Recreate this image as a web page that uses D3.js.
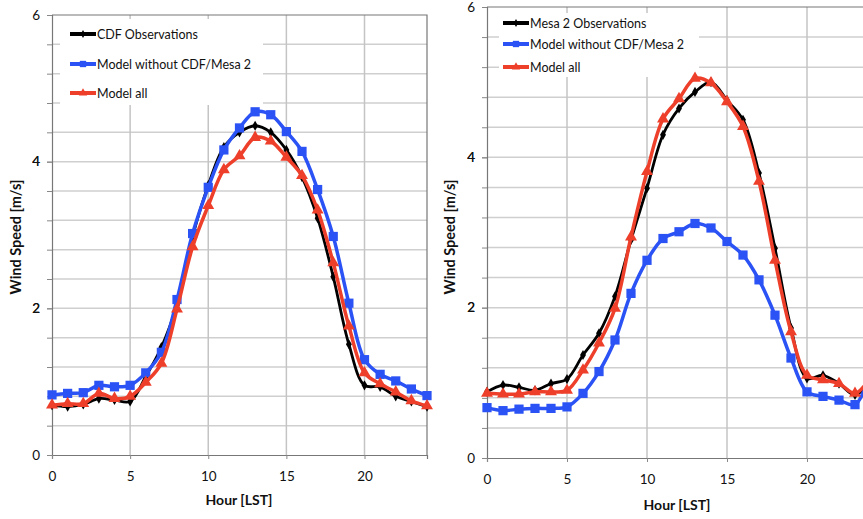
<!DOCTYPE html>
<html>
<head>
<meta charset="utf-8">
<script src="https://cdn.jsdelivr.net/npm/d3@7"></script>
<style>
body { margin: 0; background: #fff; }
svg { display: block; font-family: Lato, "Open Sans", sans-serif; }
</style>
</head>
<body>
<svg id="canvas" width="863" height="519"></svg>
<script>
// data
let hours = [0,1,2,3,4,5,6,7,8,9,10,11,12,13,14,15,16,17,18,19,20,21,22,23,24];

let cdfObs    = [0.68,0.66,0.69,0.77,0.75,0.73,1.07,1.47,2.05,2.98,3.68,4.20,4.40,4.49,4.40,4.16,3.79,3.23,2.43,1.51,0.95,0.93,0.80,0.73,0.66];
let leftNoCdf = [0.82,0.84,0.85,0.95,0.93,0.95,1.12,1.40,2.12,3.02,3.65,4.16,4.46,4.68,4.64,4.41,4.14,3.62,2.98,2.07,1.30,1.10,1.01,0.90,0.81];
let leftAll   = [0.68,0.70,0.70,0.84,0.77,0.80,0.99,1.25,1.99,2.84,3.40,3.89,4.08,4.33,4.28,4.06,3.81,3.34,2.62,1.76,1.12,0.97,0.86,0.74,0.67];

let mesaObs    = [0.88,0.97,0.94,0.90,0.99,1.05,1.37,1.66,2.15,2.90,3.59,4.30,4.65,4.87,5.00,4.76,4.50,3.79,2.79,1.73,1.06,1.10,0.99,0.84,1.05];
let rightNoCdf = [0.67,0.63,0.65,0.66,0.66,0.68,0.86,1.15,1.57,2.19,2.63,2.92,3.01,3.12,3.06,2.88,2.70,2.37,1.90,1.33,0.88,0.82,0.77,0.71,1.15];
let rightAll   = [0.86,0.85,0.85,0.88,0.88,0.90,1.17,1.53,1.99,2.94,3.81,4.51,4.78,5.05,4.99,4.74,4.41,3.68,2.63,1.68,1.10,1.04,0.99,0.86,1.08];

let xTicks = [0,5,10,15,20];
let yTicks = [0,2,4,6];
let yMinor = [0.4,0.8,1.2,1.6,2.0,2.4,2.8,3.2,3.6,4.0,4.4,4.8,5.2,5.6];

let leftNames  = ['CDF Observations', 'Model without CDF/Mesa 2', 'Model all'];
let rightNames = ['Mesa 2 Observations', 'Model without CDF/Mesa 2', 'Model all'];

let canvas = d3.select('#canvas');

let styles = [
    {color: '#000000', width: 2.8, shape: 'diamond'},
    {color: '#2a52f5', width: 3.5, shape: 'square'},
    {color: '#ee3f2b', width: 3.5, shape: 'triangle'}
];

let symbolFor = (shape, big) => {
    if (shape === 'diamond') return d3.symbol().type(d3.symbolDiamond).size(big ? 30 : 18)();
    if (shape === 'square') return d3.symbol().type(d3.symbolSquare).size(big ? 85 : 40)();
    return d3.symbol().type(d3.symbolTriangle).size(big ? 62 : 30)();
};

let drawPanel = (p) => {
    let xScale = d3.scaleLinear().domain([0, 24]).range([p.left, p.right]);
    let yScale = d3.scaleLinear().domain([0, 6]).range([p.bottom, p.top]);

    let g = canvas.append('g');

    // grid
    g.selectAll('.hgrid')
        .data(yMinor)
        .enter()
        .append('line')
        .attr('x1', p.left).attr('x2', p.right)
        .attr('y1', (d) => yScale(d)).attr('y2', (d) => yScale(d))
        .attr('stroke', '#cfcfcf')
        .attr('stroke-width', 1.5);

    g.selectAll('.vgrid')
        .data(xTicks.slice(1))
        .enter()
        .append('line')
        .attr('x1', (d) => xScale(d)).attr('x2', (d) => xScale(d))
        .attr('y1', p.top).attr('y2', p.bottom)
        .attr('stroke', '#c4c4c4')
        .attr('stroke-width', 1.5);

    // frame top / right
    g.append('path')
        .attr('d', 'M' + p.left + ',' + p.top + 'H' + p.right + 'V' + p.bottom)
        .attr('fill', 'none')
        .attr('stroke', '#777')
        .attr('stroke-width', 1.2);

    // legend box
    g.append('rect')
        .attr('x', p.legend.boxX).attr('y', p.legend.boxY)
        .attr('width', p.legend.boxW).attr('height', p.legend.boxH)
        .attr('fill', '#fff');

    // axes
    let yAxis = d3.axisLeft(yScale).tickValues(yMinor.concat(yTicks)).tickSize(5)
        .tickFormat((d) => yTicks.indexOf(d) >= 0 ? d : '');
    let yg = g.append('g').attr('transform', 'translate(' + p.left + ',0)').call(yAxis);
    yg.select('.domain').attr('stroke', '#777').attr('stroke-width', 1.2);
    yg.selectAll('line').attr('stroke', '#888');
    yg.selectAll('text').attr('font-size', 13.5).attr('fill', '#111').attr('x', -12)
        .attr('font-family', 'Lato, sans-serif');

    let xAxis = d3.axisBottom(xScale).tickValues(xTicks).tickSize(4);
    let xg = g.append('g').attr('transform', 'translate(0,' + p.bottom + ')').call(xAxis);
    xg.select('.domain').attr('stroke', '#777').attr('stroke-width', 1.2);
    xg.selectAll('line').attr('stroke', '#888');
    xg.selectAll('text').attr('font-size', 13.5).attr('fill', '#111').attr('y', 16)
        .attr('font-family', 'Lato, sans-serif');

    // axis titles
    g.append('text')
        .text('Hour [LST]')
        .attr('x', p.xTitle[0]).attr('y', p.xTitle[1])
        .attr('text-anchor', 'middle')
        .attr('font-size', 14).attr('font-weight', 'bold').attr('fill', '#111');

    g.append('text')
        .text('Wind Speed [m/s]')
        .attr('transform', 'translate(' + p.yTitle[0] + ',' + p.yTitle[1] + ') rotate(-90)')
        .attr('text-anchor', 'middle')
        .attr('font-size', 14.5).attr('font-weight', 'bold').attr('fill', '#111');

    // series
    let line = d3.line()
        .x((d) => xScale(d[0]))
        .y((d) => yScale(d[1]))
        .curve(d3.curveCatmullRom.alpha(0.5));

    p.series.forEach((values, i) => {
        let pts = hours.map((h, k) => [h, values[k]]);
        let st = styles[i];
        g.append('path')
            .attr('d', line(pts))
            .attr('fill', 'none')
            .attr('stroke', st.color)
            .attr('stroke-width', st.width);
        g.selectAll('.m' + i)
            .data(pts)
            .enter()
            .append('path')
            .attr('d', symbolFor(st.shape, true))
            .attr('transform', (d) => 'translate(' + xScale(d[0]) + ',' + yScale(d[1]) + ')')
            .attr('fill', st.color);
    });

    // legend entries
    p.names.forEach((name, i) => {
        let st = styles[i];
        let y = p.legend.rows[i];
        g.append('line')
            .attr('x1', p.legend.lineX).attr('x2', p.legend.lineX + 26)
            .attr('y1', y).attr('y2', y)
            .attr('stroke', st.color)
            .attr('stroke-width', 4);
        g.append('path')
            .attr('d', symbolFor(st.shape, false))
            .attr('transform', 'translate(' + (p.legend.lineX + 13) + ',' + y + ')')
            .attr('fill', st.color);
        g.append('text')
            .text(name)
            .attr('x', p.legend.lineX + 27)
            .attr('y', y + 4.5)
            .attr('font-size', 12.5)
            .attr('fill', '#111');
    });
};

drawPanel({
    left: 52, right: 427, top: 15, bottom: 455,
    series: [cdfObs, leftNoCdf, leftAll],
    names: leftNames,
    xTitle: [239, 505],
    yTitle: [21, 237],
    legend: {boxX: 60, boxY: 19, boxW: 203, boxH: 86, lineX: 70, rows: [34, 64, 93]}
});

drawPanel({
    left: 487, right: 871, top: 7, bottom: 458,
    series: [mesaObs, rightNoCdf, rightAll],
    names: rightNames,
    xTitle: [677, 510],
    yTitle: [455, 237],
    legend: {boxX: 499, boxY: 13, boxW: 200, boxH: 64, lineX: 503, rows: [23, 44, 67]}
});
</script>
</body>
</html>
